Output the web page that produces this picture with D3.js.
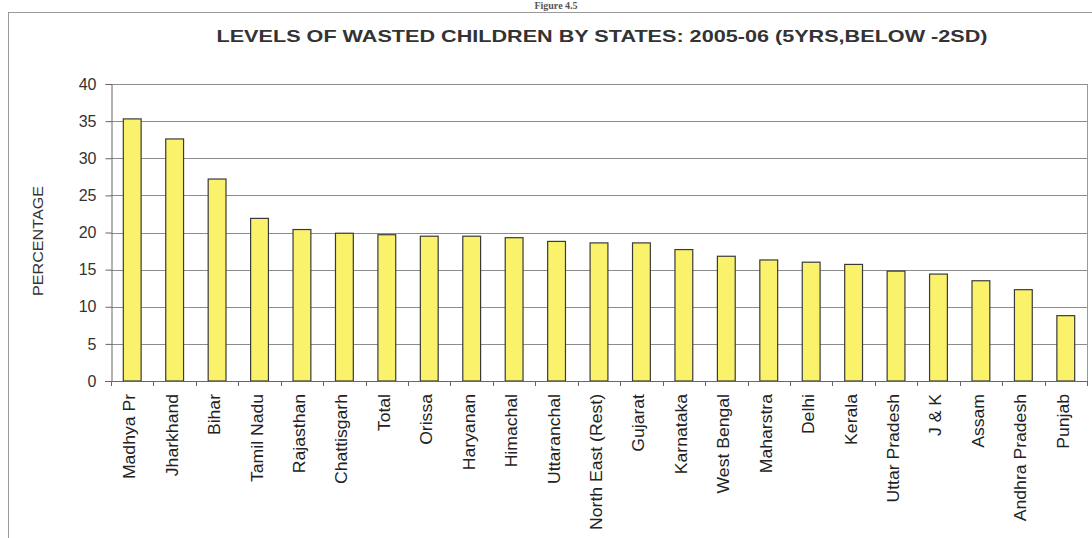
<!DOCTYPE html>
<html>
<head>
<meta charset="utf-8">
<script src="https://cdn.jsdelivr.net/npm/d3@7"></script>
<style>
  html, body { margin: 0; padding: 0; background: #fff; }
  svg { display: block; }
  text { font-family: "Liberation Sans", Arial, sans-serif; }
</style>
</head>
<body>
<svg id="chart" width="1092" height="538"></svg>
<script>
// Wasted children (below -2SD), under-5s, NFHS 2005-06, by state
const states = [
  "Madhya Pr", "Jharkhand", "Bihar", "Tamil Nadu", "Rajasthan", "Chattisgarh",
  "Total", "Orissa", "Haryanan", "Himachal", "Uttaranchal", "North East (Rest)",
  "Gujarat", "Karnataka", "West Bengal", "Maharstra", "Delhi", "Kerala",
  "Uttar Pradesh", "J & K", "Assam", "Andhra Pradesh", "Punjab"
];
const wasted = [
  35.3, 32.6, 27.2, 21.9, 20.4, 19.9,
  19.7, 19.5, 19.5, 19.3, 18.8, 18.6,
  18.6, 17.7, 16.8, 16.3, 16.0, 15.7,
  14.8, 14.4, 13.5, 12.3, 8.8
];
const yTicks = [0, 5, 10, 15, 20, 25, 30, 35, 40];

const titleText = "LEVELS OF WASTED CHILDREN BY STATES: 2005-06 (5YRS,BELOW -2SD)";
const yLabel = "PERCENTAGE";

const svg = d3.select("#chart");
const plot = { left: 111, right: 1087, top: 84, bottom: 381 };

const x = d3.scaleBand()
  .domain(states)
  .range([plot.left, plot.right])
  .paddingInner(0.58)
  .paddingOuter(0.29);

const y = d3.scaleLinear()
  .domain([0, 40])
  .range([plot.bottom, plot.top]);

// outer frame of the figure
svg.append("rect")
  .attr("x", 8.5).attr("y", 12.5)
  .attr("width", 1100).attr("height", 600)
  .attr("fill", "none")
  .attr("stroke", "#9a9a9a")
  .attr("stroke-width", 1);

// figure caption above the frame
svg.append("text")
  .attr("x", 556).attr("y", 9)
  .attr("text-anchor", "middle")
  .style("font-family", "'Liberation Serif', serif")
  .style("font-weight", "bold")
  .style("font-size", "10px")
  .attr("fill", "#555")
  .text("Figure 4.5");

// title
svg.append("text")
  .attr("x", 602).attr("y", 42)
  .attr("text-anchor", "middle")
  .style("font-weight", "bold")
  .style("font-size", "16.5px")
  .attr("fill", "#333")
  .attr("textLength", 771)
  .attr("lengthAdjust", "spacingAndGlyphs")
  .text(titleText);

// horizontal gridlines
svg.append("g")
  .selectAll("line")
  .data(yTicks.filter(d => d > 0))
  .join("line")
  .attr("x1", plot.left).attr("x2", plot.right)
  .attr("y1", d => Math.round(y(d)) + 0.5)
  .attr("y2", d => Math.round(y(d)) + 0.5)
  .attr("stroke", "#8c8c8c")
  .attr("stroke-width", 1);

// right border of the plot area
svg.append("line")
  .attr("x1", plot.right + 0.5).attr("x2", plot.right + 0.5)
  .attr("y1", y(40)).attr("y2", plot.bottom)
  .attr("stroke", "#9a9a9a");

// bars
svg.append("g")
  .selectAll("rect")
  .data(states.map((s, i) => ({ state: s, value: wasted[i] })))
  .join("rect")
  .attr("x", d => x(d.state))
  .attr("y", d => y(d.value))
  .attr("width", x.bandwidth())
  .attr("height", d => y(0) - y(d.value))
  .attr("fill", "#fbf26b")
  .attr("stroke", "#3a3a3a")
  .attr("stroke-width", 1.2);

// y axis
const yAxis = svg.append("g")
  .attr("transform", `translate(${plot.left + 0.5},0)`)
  .call(d3.axisLeft(y).tickValues(yTicks).tickSize(6).tickPadding(9));
yAxis.select(".domain").attr("stroke", "#666");
yAxis.selectAll(".tick line").attr("stroke", "#666");
yAxis.selectAll(".tick text")
  .style("font-size", "16px")
  .style("font-family", "'Liberation Sans', Arial, sans-serif")
  .attr("fill", "#333");

// x axis: baseline with ticks on category boundaries
const xAxis = svg.append("g");
xAxis.append("line")
  .attr("x1", plot.left - 6).attr("x2", plot.right)
  .attr("y1", plot.bottom + 0.5).attr("y2", plot.bottom + 0.5)
  .attr("stroke", "#666");
const boundaries = d3.range(states.length + 1).map(i => plot.left + i * (plot.right - plot.left) / states.length);
xAxis.selectAll("line.tick")
  .data(boundaries)
  .join("line")
  .attr("class", "tick")
  .attr("x1", d => Math.round(d) + 0.5).attr("x2", d => Math.round(d) + 0.5)
  .attr("y1", plot.bottom).attr("y2", plot.bottom + 5)
  .attr("stroke", "#666");

// category labels, rotated
xAxis.selectAll("text")
  .data(states)
  .join("text")
  .attr("transform", d => `translate(${x(d) + x.bandwidth() / 2 + 3},${plot.bottom + 13}) rotate(-90)`)
  .attr("text-anchor", "end")
  .style("font-size", "16px")
  .attr("fill", "#222")
  .text(d => d)
  .each(function () {
    const len = this.getComputedTextLength();
    d3.select(this)
      .attr("textLength", len * 1.1)
      .attr("lengthAdjust", "spacingAndGlyphs");
  });

// y axis title
svg.append("text")
  .attr("transform", `translate(${43},${241}) rotate(-90)`)
  .attr("text-anchor", "middle")
  .style("font-size", "14px")
  .attr("fill", "#333")
  .attr("textLength", 110)
  .attr("lengthAdjust", "spacingAndGlyphs")
  .text(yLabel);
</script>
</body>
</html>
